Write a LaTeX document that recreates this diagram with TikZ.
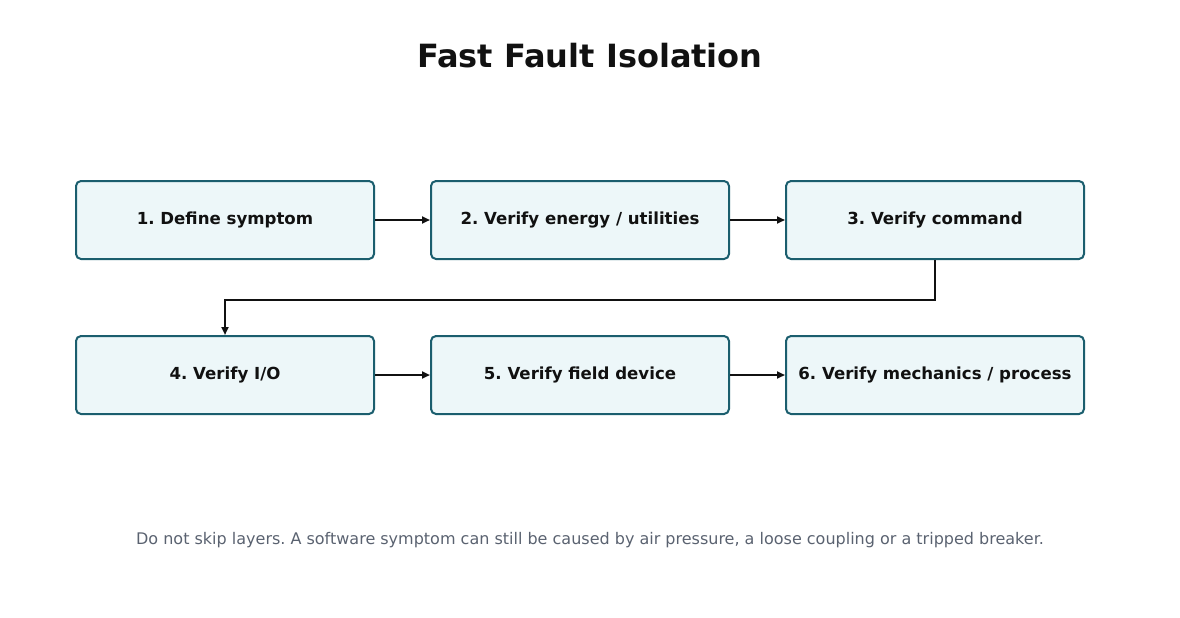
\documentclass[tikz,border=0pt]{standalone}
\usepackage{fontspec}
\setmainfont{DejaVu Sans}
\usetikzlibrary{arrows.meta}
\definecolor{bord}{HTML}{1B5E6E}
\definecolor{fillc}{HTML}{EDF7F9}
\definecolor{ink}{HTML}{111111}
\definecolor{note}{HTML}{5A6270}
\begin{document}
\frenchspacing
\begin{tikzpicture}[x=1pt,y=-1pt,
  box/.style={draw=bord,fill=fillc,line width=2pt,rounded corners=5pt,minimum width=298pt,minimum height=78pt,inner sep=0pt,font=\fontsize{16.6}{20}\selectfont\bfseries,text=ink},
  arr/.style={draw=ink,line width=2pt,-{Triangle[length=8pt,width=7pt]}}]
\useasboundingbox (0,0) rectangle (1180,618);
\node[font=\fontsize{32}{38}\selectfont\bfseries,text=ink] (t) at (590,56) {Fast Fault Isolation};
\node[box] (b1) at (225,220) {1. Define symptom};
\node[box] (b2) at (580,220) {2. Verify energy / utilities};
\node[box] (b3) at (935,220) {3. Verify command};
\node[box] (b4) at (225,375) {4. Verify I/O};
\node[box] (b5) at (580,375) {5. Verify field device};
\node[box] (b6) at (935,375) {6. Verify mechanics / process};
\draw[arr] (b1) -- (b2);
\draw[arr] (b2) -- (b3);
\draw[arr] (b4) -- (b5);
\draw[arr] (b5) -- (b6);
\draw[arr] (b3.south) -- (935,300) -- (225,300) -- (b4.north);
\node[font=\fontsize{16}{19}\selectfont,text=note] (n) at (590,540) {Do not skip layers. A software symptom can still be caused by air pressure, a loose coupling or a tripped breaker.};
\end{tikzpicture}
\end{document}
